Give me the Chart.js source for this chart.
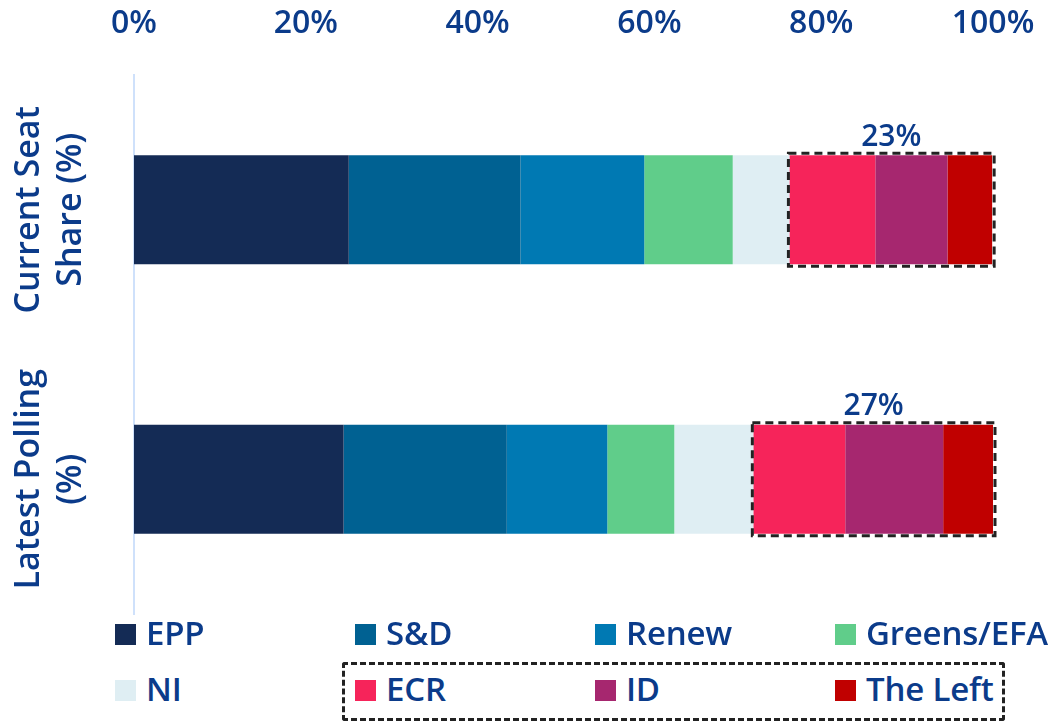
<!DOCTYPE html>
<html lang="en">
<head>
<meta charset="UTF-8">
<title>Seat share vs polling</title>
<script src="https://cdn.jsdelivr.net/npm/chart.js"></script>
<style>
  body { margin: 0; background: #fff; }
  #wrap { position: relative; width: 1064px; height: 724px; font-family: "Open Sans", sans-serif; color: #0b3b8a; }
  #box { position: absolute; left: 0; top: 0; width: 1064px; height: 616px; }
  .leg { position: absolute; font-size: 33px; font-weight: 600; line-height: 36px; white-space: nowrap; letter-spacing: -0.2px; }
  .leg span { display: inline-block; width: 21px; height: 21px; margin-right: 10px; vertical-align: 0px; }
  #legbox { position: absolute; left: 342px; top: 662px; width: 657px; height: 53px; border: 3px dashed #222; border-radius: 3px; }
</style>
</head>
<body>
<div id="wrap">
  <div id="box"><canvas id="barra"></canvas></div>
  <div id="legbox"></div>
  <div id="legenda"></div>
</div>
<script>
  // categories and values (% of seats / polling share)
  var categorias = [['Current Seat', 'Share (%)'], ['Latest Polling', '(%)']]
  var partidos = ['EPP', 'S&D', 'Renew', 'Greens/EFA', 'NI', 'ECR', 'ID', 'The Left']
  var epp = [25.0, 24.4]
  var sd = [20.0, 19.0]
  var renew = [14.4, 11.7]
  var greens = [10.3, 7.8]
  var ni = [6.6, 9.2]
  var ecr = [10.0, 10.7]
  var id = [8.4, 11.4]
  var left = [5.2, 5.8]
  var grupoLabels = ['23%', '27%']
  var ticksX = [0, 20, 40, 60, 80, 100]

  var cores = ['#142b55', '#006192', '#0079b3', '#60cd8a', '#dfeef3', '#f6245a', '#a6276f', '#c00000']
  var valores = [epp, sd, renew, greens, ni, ecr, id, left]
  var azul = '#0b3b8a'
  var fonte = '"Open Sans", sans-serif'

  // dashed box around ECR + ID + The Left, with total label
  var caixaGrupo = {
    id: 'caixaGrupo',
    afterDatasetsDraw(chart) {
      var ctx = chart.ctx
      var m1 = chart.getDatasetMeta(5)
      var m2 = chart.getDatasetMeta(7)
      for (var i = 0; i < categorias.length; i++) {
        var a = m1.data[i], b = m2.data[i]
        var x0 = a.base - 1, x1 = b.x + 2
        var y0 = a.y - a.height / 2 - 2, y1 = a.y + a.height / 2 + 2
        ctx.save()
        ctx.strokeStyle = '#222'
        ctx.lineWidth = 3
        ctx.setLineDash([8, 5])
        ctx.strokeRect(x0, y0, x1 - x0, y1 - y0)
        ctx.setLineDash([])
        ctx.fillStyle = azul
        ctx.font = '600 30px ' + fonte
        ctx.textAlign = 'center'
        ctx.textBaseline = 'bottom'
        ctx.fillText(grupoLabels[i], (x0 + x1) / 2, y0 - 1)
        ctx.restore()
      }
    }
  }

  // rotated category labels on the left
  var rotulosY = {
    id: 'rotulosY',
    afterDraw(chart) {
      var ctx = chart.ctx
      var y = chart.scales.y
      for (var i = 0; i < categorias.length; i++) {
        var cy = y.getPixelForValue(i)
        ctx.save()
        ctx.translate(0, cy)
        ctx.rotate(-Math.PI / 2)
        ctx.fillStyle = azul
        ctx.font = '600 34px ' + fonte
        ctx.textAlign = 'center'
        ctx.textBaseline = 'middle'
        var linhas = categorias[i]
        for (var j = 0; j < linhas.length; j++) {
          ctx.fillText(linhas[j], 0, 29 + j * 42)
        }
        ctx.restore()
      }
    }
  }

  var datasets = []
  for (var k = 0; k < partidos.length; k++) {
    datasets.push({
      label: partidos[k],
      data: valores[k],
      backgroundColor: cores[k],
      borderWidth: 0,
      categoryPercentage: 1,
      barPercentage: 0.405
    })
  }

  new Chart(document.getElementById('barra'), {
    type: 'bar',
    data: { labels: categorias.map(function (c) { return c.join(' ') }), datasets: datasets },
    plugins: [caixaGrupo, rotulosY],
    options: {
      indexAxis: 'y',
      responsive: true,
      maintainAspectRatio: false,
      animation: false,
      layout: { padding: { left: 126, right: 71, top: 0, bottom: 2 } },
      plugins: { legend: { display: false }, tooltip: { enabled: false } },
      scales: {
        x: {
          position: 'top',
          stacked: true,
          min: 0,
          max: 100,
          afterBuildTicks: function (s) { s.ticks = ticksX.map(function (v) { return { value: v } }) },
          afterFit: function (s) { s.height = 75; s.paddingLeft = 0; s.paddingRight = 0 },
          ticks: {
            color: azul,
            font: { family: fonte, size: 32, weight: 600 },
            padding: 24,
            maxRotation: 0,
            callback: function (v) { return v + '%' }
          },
          grid: { display: false },
          border: { display: false }
        },
        y: {
          stacked: true,
          ticks: { display: false },
          grid: { display: false },
          border: { display: true, color: '#cfe1fb', width: 2 }
        }
      }
    }
  })

  // legend: 4 columns, 2 rows
  var leg = document.getElementById('legenda')
  for (var n = 0; n < partidos.length; n++) {
    var d = document.createElement('div')
    d.className = 'leg'
    d.style.left = (115 + (n % 4) * 240) + 'px'
    d.style.top = (615 + Math.floor(n / 4) * 56) + 'px'
    d.innerHTML = '<span style="background:' + cores[n] + '"></span>' + partidos[n].replace('&', '&amp;')
    leg.appendChild(d)
  }
</script>
</body>
</html>
